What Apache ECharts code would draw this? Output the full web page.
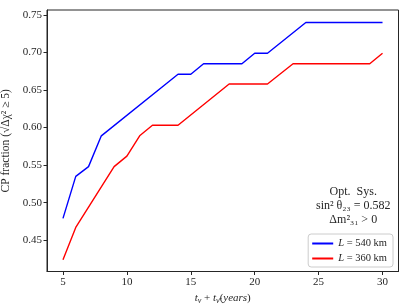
<!DOCTYPE html>
<html>
<head>
<meta charset="utf-8">
<script src="https://cdn.jsdelivr.net/npm/echarts@6/dist/echarts.min.js"></script>
<style>html,body{margin:0;padding:0;background:#fff}#c{width:409px;height:308px}</style>
</head>
<body>
<div id="c"></div>
<script>
// Data
const years540 = [5, 6, 7, 8, 14, 15, 16, 19, 20, 21, 24, 30];
const frac540 = [0.479, 0.535, 0.548, 0.589, 0.671, 0.671, 0.685, 0.685, 0.699, 0.699, 0.740, 0.740];
const years360 = [5, 6, 9, 10, 11, 12, 14, 18, 21, 23, 29, 30];
const frac360 = [0.424, 0.467, 0.548, 0.562, 0.589, 0.603, 0.603, 0.658, 0.658, 0.685, 0.685, 0.699];
const xTicks = [5, 10, 15, 20, 25, 30];
const yTicks = [0.45, 0.50, 0.55, 0.60, 0.65, 0.70, 0.75];
const seriesNames = ['L = 540 km', 'L = 360 km'];
const annotation = ['Opt.  Sys.', 'sin² θ₂₃ = 0.582', 'Δm²₃₁ > 0'];

const FONT = 'Liberation Serif';
const FS = 11;
const pairs = (xs, ys) => xs.map((x, i) => [x, ys[i]]);

const chart = echarts.init(document.getElementById('c'), null, {renderer: 'canvas'});
chart.setOption({
  animation: false,
  backgroundColor: '#fff',
  textStyle: {fontFamily: FONT},
  grid: {left: 47, right: 10.5, top: 10, bottom: 36.5, containLabel: false, outerBoundsMode: 'none',
    show: true, borderColor: '#262626', borderWidth: 1, backgroundColor: 'transparent'},
  xAxis: {
    type: 'value', min: 3.75, max: 31.25,
    axisLine: {show: true, lineStyle: {color: '#262626', width: 1}},
    axisTick: {show: true, length: 3.5, inside: false, customValues: xTicks, lineStyle: {color: '#262626'}},
    axisLabel: {customValues: xTicks, color: '#262626', fontFamily: FONT, fontSize: FS, margin: 5},
    splitLine: {show: false},
    name: '{i|t}{s|ν} + {i|t}{s|ν̄}{n|(}{i|years}{n|)}',
    nameLocation: 'middle', nameGap: 19,
    nameTextStyle: {
      color: '#262626', fontFamily: FONT, fontSize: FS,
      rich: {
        i: {fontStyle: 'italic', fontFamily: FONT, fontSize: FS, color: '#262626'},
        s: {fontStyle: 'italic', fontFamily: FONT, fontSize: 8, color: '#262626', padding: [5, 0, 0, 0]},
        n: {fontFamily: FONT, fontSize: FS, color: '#262626'}
      }
    }
  },
  yAxis: {
    type: 'value', min: 0.4083, max: 0.7566,
    axisLine: {show: true, lineStyle: {color: '#262626', width: 1}},
    axisTick: {show: true, length: 3.5, customValues: yTicks, lineStyle: {color: '#262626'}},
    axisLabel: {customValues: yTicks, color: '#262626', fontFamily: FONT, fontSize: FS, margin: 5,
      formatter: v => v.toFixed(2)},
    splitLine: {show: false},
    name: 'CP fraction (√Δχ² ≥ 5)',
    nameLocation: 'middle', nameGap: 28, nameRotate: 90,
    nameTextStyle: {color: '#262626', fontFamily: FONT, fontSize: 11.5}
  },
  legend: {
    orient: 'vertical', right: 16, bottom: 41,
    icon: 'rect', itemWidth: 21, itemHeight: 2, itemGap: 4,
    padding: [4, 6, 3, 4],
    backgroundColor: 'rgba(255,255,255,0.8)', borderColor: '#cccccc', borderWidth: 1, borderRadius: 3,
    data: seriesNames,
    formatter: name => '{i|L}' + name.slice(1),
    textStyle: {color: '#262626', fontFamily: FONT, fontSize: 10.5,
      rich: {i: {fontStyle: 'italic', fontFamily: FONT, fontSize: 10.5, color: '#262626'}}}
  },
  graphic: [{
    type: 'text', left: 316, top: 185,
    style: {text: annotation.join('\n'), fill: '#262626', font: '12px "Liberation Serif"', textAlign: 'center', lineHeight: 14, x: 40, y: 0}
  }],
  series: [
    {name: seriesNames[0], type: 'line', data: pairs(years540, frac540), symbol: 'none',
      lineStyle: {color: '#0000ff', width: 1.4}, itemStyle: {color: '#0000ff'}},
    {name: seriesNames[1], type: 'line', data: pairs(years360, frac360), symbol: 'none',
      lineStyle: {color: '#ff0000', width: 1.4}, itemStyle: {color: '#ff0000'}}
  ]
});
</script>
</body>
</html>
